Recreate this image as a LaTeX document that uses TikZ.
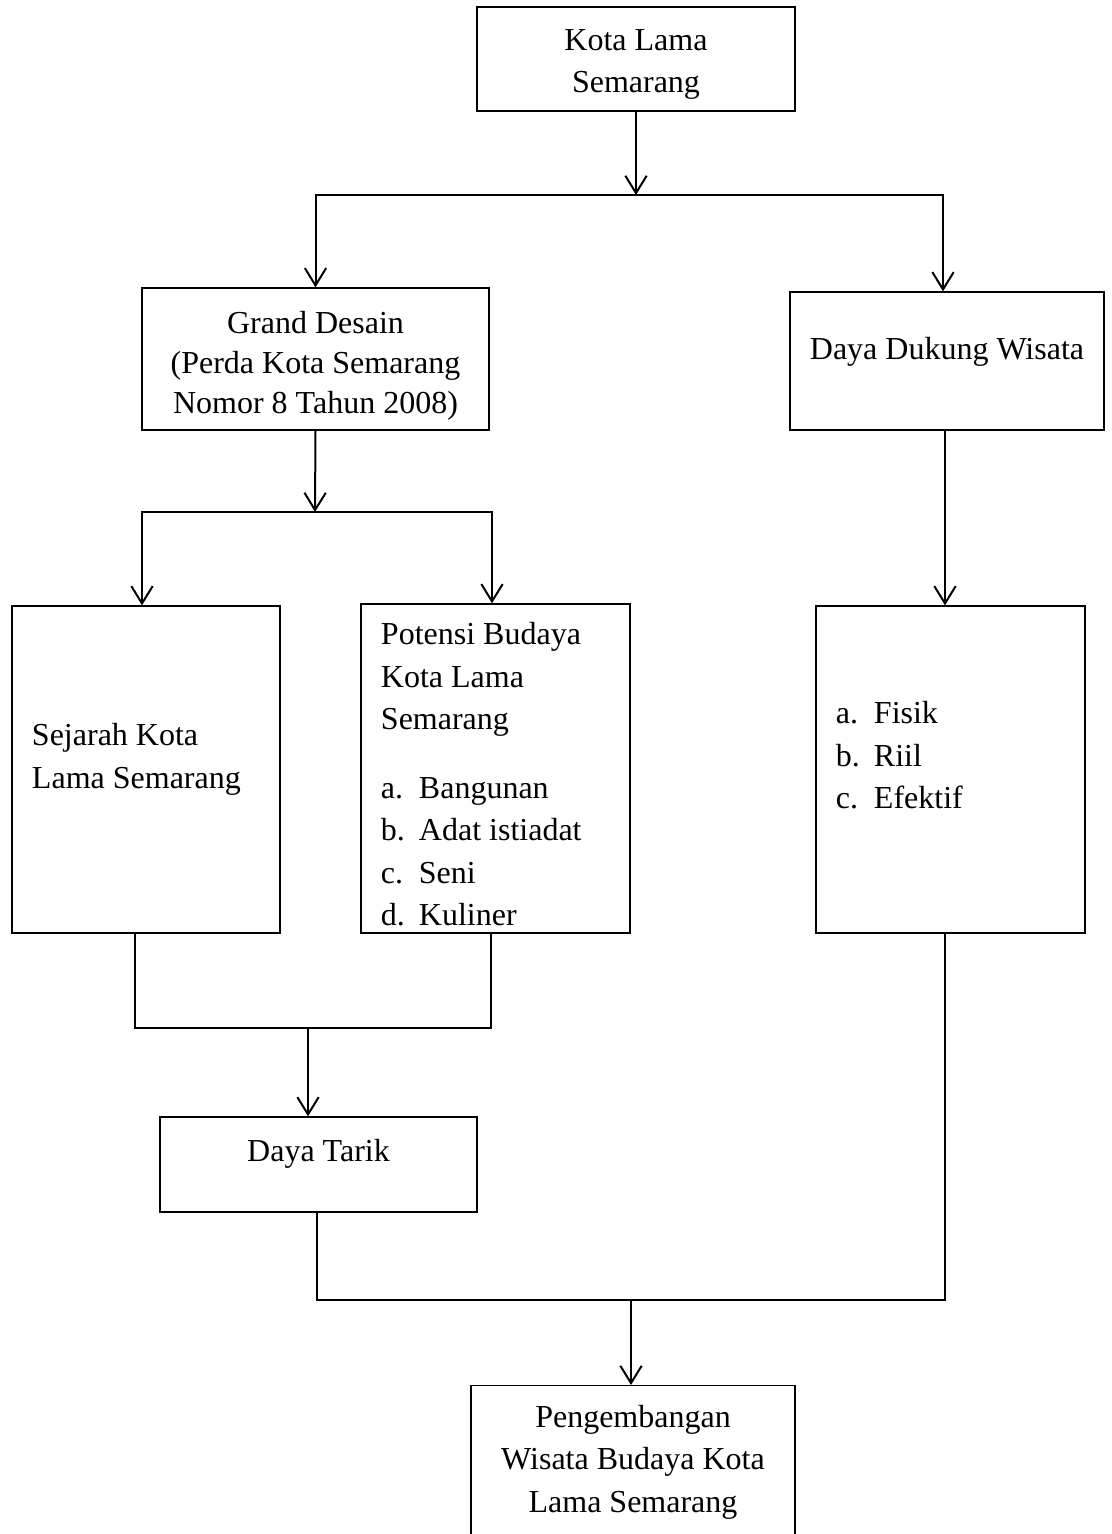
\documentclass[tikz,border=0pt]{standalone}
\usepackage{fontspec}
\setmainfont{Liberation Serif}
\usetikzlibrary{positioning,arrows.meta,calc}
\newcommand{\enumline}[2]{\makebox[14.25pt][l]{#1}#2}
% deeper last line / taller first line, to move text inside a box
\newcommand{\lift}[1][10pt]{\rule[-#1]{0pt}{#1}}
\newcommand{\drop}[1][12pt]{\rule{0pt}{#1}}

\begin{document}
\begin{tikzpicture}[x=0.375pt,y=-0.375pt,font=\fontsize{12}{15.9}\selectfont,
  box/.style={draw,line width=0.5pt,inner xsep=2pt,inner ysep=0pt,align=flush center},
  leftbox/.style={box,inner xsep=7.5pt,align=flush left},
  wire/.style={line width=0.75pt},
  arr/.style={wire,-{Straight Barb[length=6.5pt,width=8pt]}}]
\useasboundingbox (0,0) rectangle (1111,1534);
\clip (0,0) rectangle (1111,1534);
\node[box,text width=115.25pt,minimum height=39pt] (kota) at (636,59) {\drop Kota Lama\\Semarang};
\node[box,text width=126.1pt,minimum height=53.25pt] (grand) at (315.5,359)
  {\drop[13.5pt]Grand Desain\\[-0.9pt](Perda Kota Semarang\\[-0.9pt]Nomor 8 Tahun 2008)};
\node[box,text width=113.75pt,minimum height=51.75pt] (dukung) at (947,361) {Daya Dukung Wisata\lift[9.4pt]};
\node[leftbox,text width=85.5pt,minimum height=122.6pt] (sejarah) at (146,769.5) {Sejarah Kota\\Lama Semarang\lift[10.1pt]};
\node[leftbox,text width=85.9pt,minimum height=123.4pt] (potensi) at (495.5,768.5)
  {\drop[12.7pt]Potensi Budaya\\Kota Lama\\Semarang\\[10pt]
   \enumline{a.}{Bangunan}\\\enumline{b.}{Adat istiadat}\\\enumline{c.}{Seni}\\\enumline{d.}{Kuliner}};
\node[leftbox,text width=85.9pt,minimum height=122.6pt] (aspek) at (950.5,769.5)
  {\enumline{a.}{Fisik}\\\enumline{b.}{Riil}\\\enumline{c.}{Efektif}\lift[10.7pt]};
\node[box,text width=114.9pt,minimum height=35.6pt] (tarik) at (318.5,1164.5) {Daya Tarik\lift[10.9pt]};
\node[box,text width=117.5pt,inner ysep=7.3pt,anchor=north] (kembang) at (633,1385)
  {Pengembangan\\Wisata Budaya Kota\\Lama Semarang\lift[40pt]};
% branches
\coordinate (split1) at (636,195);
\coordinate (split2) at (315,512);
\coordinate (join1) at (308,1028);
\coordinate (join2) at (631,1300);
\draw[arr] (kota.south) -- (split1);
\draw[arr] (split1) -| (grand.north);
\draw[arr] (split1) -| ($(dukung.north)+(-4,0)$);
\draw[arr] (grand.south) -- (split2);
\draw[arr] (split2) -| ($(sejarah.north)+(-4,0)$);
\draw[arr] (split2) -| ($(potensi.north)+(-3.5,0)$);
\draw[arr] ($(dukung.south)+(-2,0)$) -- ($(dukung.south |- aspek.north)+(-2,0)$);
\draw[wire] ($(sejarah.south)+(-11,0)$) |- (join1) -| ($(potensi.south)+(-4.5,0)$);
\draw[arr] (join1) -- (join1 |- tarik.north);
\draw[wire] ($(tarik.south)+(-1.5,0)$) |- (join2) -| ($(aspek.south)+(-5.5,0)$);
\draw[arr] (join2) -- (join2 |- kembang.north);
\end{tikzpicture}
\end{document}
